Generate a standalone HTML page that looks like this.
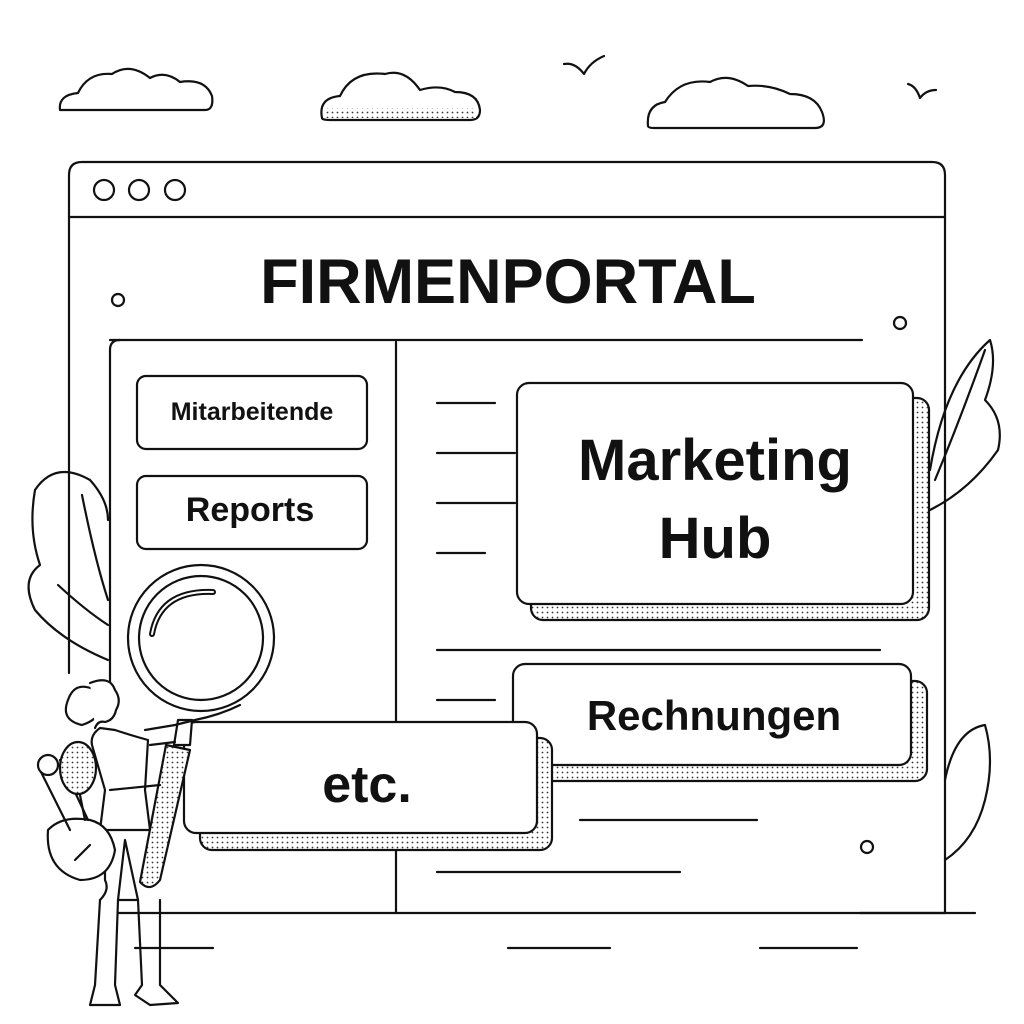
<!DOCTYPE html>
<html><head><meta charset="utf-8"><style>
html,body{margin:0;padding:0;background:#fff;}
svg{display:block}
text{font-family:"Liberation Sans",sans-serif;font-weight:bold;fill:#111}
</style></head><body>
<svg width="1024" height="1024" viewBox="0 0 1024 1024" xmlns="http://www.w3.org/2000/svg">
<defs>
<pattern id="dots" width="5" height="5" patternUnits="userSpaceOnUse">
<rect width="5" height="5" fill="#fff"/><circle cx="2.5" cy="2.5" r="0.9" fill="#333"/>
</pattern>
</defs>
<g fill="none" stroke="#111" stroke-width="2.2" stroke-linecap="round" stroke-linejoin="round">
<!-- clouds -->
<path d="M60 110 Q58 95 78 93 Q88 72 112 74 Q130 62 150 78 Q165 70 180 82 Q205 78 212 96 Q214 110 205 110 Z"/>
<path d="M322 118 Q318 98 340 96 Q352 70 385 74 Q405 68 420 90 Q440 84 455 92 Q478 92 480 110 Q480 120 470 120 L330 120 Q322 120 322 118 Z"/>
<path d="M324 108 L476 108 L476 118 L326 118 Z" fill="url(#dots)" stroke="none"/>
<path d="M648 126 Q646 105 665 102 Q680 78 710 82 Q728 72 748 86 Q770 84 790 94 Q815 94 822 112 Q828 128 815 128 L655 128 Q648 128 648 126 Z"/>
<path d="M564 64 Q575 62 584 74 Q590 62 604 56"/>
<path d="M908 84 Q916 86 920 98 Q926 90 936 90"/>
<!-- browser window -->
<path d="M69 673 L69 175 Q69 162 82 162 L932 162 Q945 162 945 175 L945 913"/>
<line x1="69" y1="217" x2="945" y2="217"/>
<circle cx="104" cy="190" r="10"/><circle cx="139" cy="190" r="10"/><circle cx="175" cy="190" r="10"/>
<circle cx="118" cy="300" r="6"/><circle cx="900" cy="323" r="6"/><circle cx="867" cy="847" r="6"/>
<!-- leaves right -->
<path d="M930 470 Q945 380 990 340 Q998 365 985 400 Q1005 420 998 450 Q970 490 930 510"/>
<path d="M935 480 Q960 420 985 350"/>
<path d="M945 780 Q955 730 985 725 Q995 760 985 800 Q975 840 945 860"/>
<!-- leaves left -->
<path d="M108 660 Q60 640 35 610 Q20 580 40 565 Q28 530 35 490 Q55 460 90 480 Q108 500 108 520"/>
<path d="M58 585 Q85 610 108 625"/>
<path d="M82 495 Q95 560 108 600"/>
<!-- inner panel -->
<line x1="110" y1="340" x2="862" y2="340"/>
<path d="M110 690 L110 350 Q110 340 120 340"/>
<path d="M118 913 L945 913"/>
<line x1="396" y1="342" x2="396" y2="913"/>
<line x1="860" y1="913" x2="975" y2="913"/>
<!-- left buttons -->
<rect x="137" y="376" width="230" height="73" rx="9"/>
<rect x="137" y="476" width="230" height="73" rx="9"/>
<!-- list lines -->
<line x1="437" y1="403" x2="495" y2="403"/>
<line x1="437" y1="453" x2="515" y2="453"/>
<line x1="437" y1="503" x2="515" y2="503"/>
<line x1="437" y1="553" x2="485" y2="553"/>
<line x1="437" y1="650" x2="880" y2="650"/>
<line x1="437" y1="700" x2="495" y2="700"/>
<line x1="580" y1="820" x2="757" y2="820"/>
<line x1="437" y1="872" x2="680" y2="872"/>
<line x1="135" y1="948" x2="213" y2="948"/>
<line x1="508" y1="948" x2="610" y2="948"/>
<line x1="760" y1="948" x2="857" y2="948"/>
<!-- marketing hub card -->
<rect x="531" y="398" width="398" height="222" rx="12" fill="url(#dots)"/>
<rect x="517" y="383" width="396" height="221" rx="12" fill="#fff"/>
<!-- Rechnungen -->
<rect x="527" y="681" width="400" height="100" rx="12" fill="url(#dots)"/>
<rect x="513" y="664" width="398" height="101" rx="12" fill="#fff"/>
<!-- etc -->
<rect x="200" y="738" width="352" height="112" rx="12" fill="url(#dots)"/>
<rect x="184" y="722" width="353" height="111" rx="12" fill="#fff"/>
<!-- magnifier -->
<circle cx="201" cy="638" r="73" fill="#fff"/>
<circle cx="201" cy="638" r="62"/>
<path d="M152 634 Q160 590 213 592" stroke-width="6"/>
<path d="M152 634 Q160 590 213 592" stroke="#fff" stroke-width="2"/>
<path d="M178 720 L192 720 L190 745 L174 745 Z" fill="#fff"/>
<path d="M166 745 L190 750 L160 880 Q150 893 140 882 Z" fill="url(#dots)"/>
<!-- person -->
<path d="M95 690 Q75 680 68 700 Q60 720 82 725 Q98 720 105 705"/>
<path d="M90 683 Q110 675 115 690 Q122 700 116 710 Q114 720 105 722 Q98 720 95 728" fill="#fff"/>
<path d="M100 728 Q90 735 92 745 L105 790 L100 830 L150 830 L145 790 L148 740 Q130 735 115 730 Z" fill="#fff"/>
<path d="M145 730 L175 725 L195 720 Q220 715 240 705"/>
<path d="M150 745 L175 742"/>
<path d="M110 790 L160 785"/>
<path d="M105 830 L105 880 Q110 890 100 900"/>
<path d="M100 900 L95 985 L90 1005 L120 1005 L115 985 L118 900"/>
<path d="M138 900 L142 985 L135 995 L150 1005 L178 1003 L165 990 L160 985 L160 900"/>
<path d="M118 900 L138 900 L125 840 Z"/>
<!-- bag and racket -->
<path d="M48 830 Q45 870 80 880 Q110 880 115 850 Q110 825 90 820 Q62 815 48 830 Z" fill="#fff"/>
<path d="M40 770 L70 830 M60 760 L88 820"/>
<circle cx="48" cy="765" r="10" fill="#fff"/>
<ellipse cx="78" cy="768" rx="18" ry="26" fill="url(#dots)"/>
<path d="M80 795 L85 820"/>
<path d="M75 860 L90 845"/>
</g>
<text x="508" y="303" font-size="63" text-anchor="middle">FIRMENPORTAL</text>
<text x="252" y="420" font-size="25" text-anchor="middle">Mitarbeitende</text>
<text x="250" y="521" font-size="34" text-anchor="middle">Reports</text>
<text x="715" y="480" font-size="58" text-anchor="middle">Marketing</text>
<text x="715" y="558" font-size="58" text-anchor="middle">Hub</text>
<text x="714" y="730" font-size="42" text-anchor="middle">Rechnungen</text>
<text x="367" y="802" font-size="52" text-anchor="middle">etc.</text>
</svg>
</body></html>
